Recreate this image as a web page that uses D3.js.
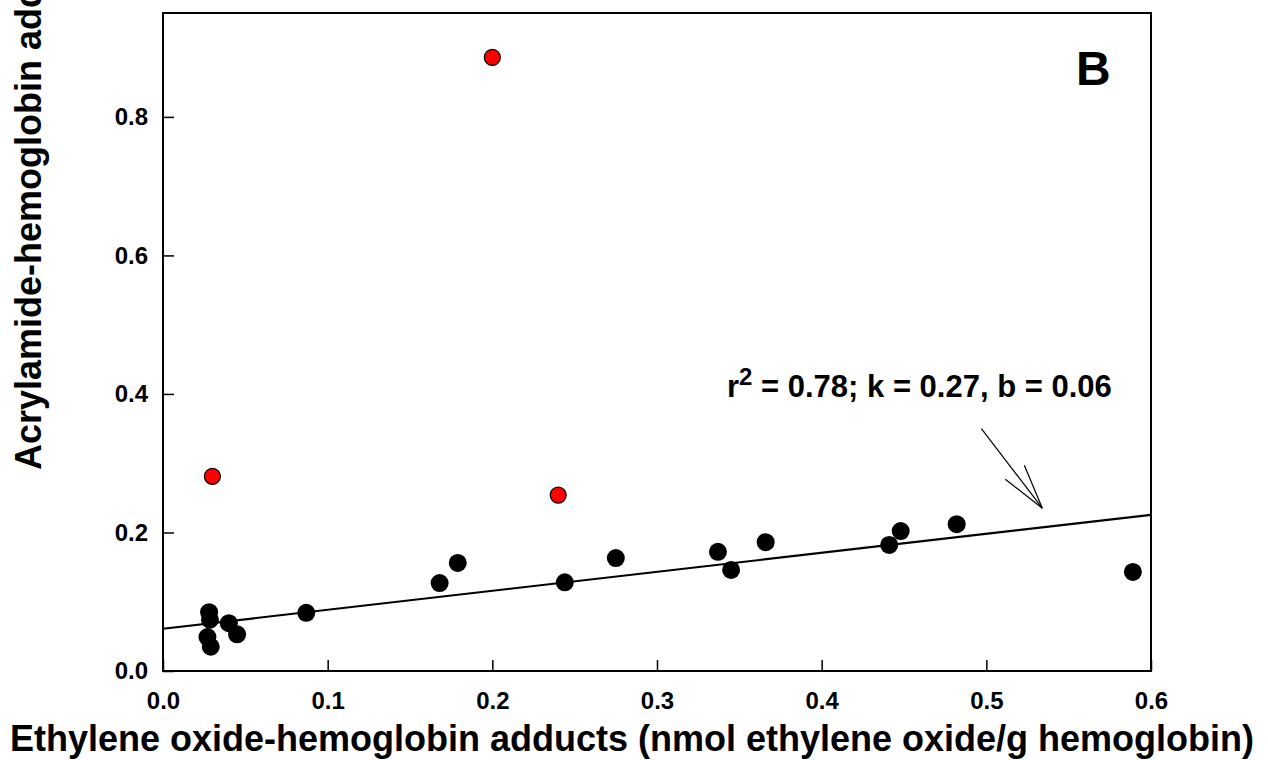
<!DOCTYPE html>
<html>
<head>
<meta charset="utf-8" />
<title>Acrylamide vs ethylene oxide adducts</title>
<script src="https://d3js.org/d3.v7.min.js"></script>
<style>
  body { margin: 0; background: #fff; }
  svg text { font-family: "Liberation Sans", Arial, sans-serif; font-weight: bold; fill: #000; }
</style>
</head>
<body>
<svg id="chart" width="1268" height="760"></svg>
<script>
// black points (regular subjects)
var blackX = [0.028, 0.0285, 0.027, 0.029, 0.040, 0.045, 0.087, 0.168, 0.179, 0.244, 0.275, 0.337, 0.345, 0.366, 0.441, 0.448, 0.482, 0.589];
var blackY = [0.085, 0.074, 0.049, 0.035, 0.069, 0.053, 0.084, 0.127, 0.156, 0.128, 0.163, 0.172, 0.146, 0.186, 0.182, 0.202, 0.212, 0.143];
// red points (outliers)
var redX = [0.200, 0.030, 0.240];
var redY = [0.886, 0.281, 0.254];
// regression line
var lineK = 0.274, lineB = 0.061;
var xTicks = [0.0, 0.1, 0.2, 0.3, 0.4, 0.5, 0.6];
var yTicks = [0.0, 0.2, 0.4, 0.6, 0.8];

var svg = d3.select("#chart");
var plotL = 163, plotR = 1151, plotT = 13, plotB = 671;

var x = d3.scaleLinear().domain([0, 0.6]).range([plotL, plotR]);
var y = d3.scaleLinear().domain([0, 0.95]).range([plotB, plotT]);

// frame
svg.append("rect")
  .attr("x", plotL).attr("y", plotT)
  .attr("width", plotR - plotL).attr("height", plotB - plotT)
  .attr("fill", "none").attr("stroke", "#000").attr("stroke-width", 2);

// x axis: ticks point inward (up)
var xAxis = svg.append("g")
  .attr("transform", "translate(0," + plotB + ")")
  .call(d3.axisBottom(x).tickValues(xTicks).tickFormat(d3.format(".1f")).tickSizeInner(-11).tickSizeOuter(0).tickPadding(21));
xAxis.select(".domain").remove();
xAxis.selectAll("line").attr("stroke-width", 1.5);
xAxis.selectAll("text").attr("font-size", 24).attr("font-family", null);

// y axis: ticks point inward (right)
var yAxis = svg.append("g")
  .attr("transform", "translate(" + plotL + ",0)")
  .call(d3.axisLeft(y).tickValues(yTicks).tickFormat(d3.format(".1f")).tickSizeInner(-11).tickSizeOuter(0).tickPadding(15));
yAxis.select(".domain").remove();
yAxis.selectAll("line").attr("stroke-width", 1.5);
yAxis.selectAll("text").attr("font-size", 24).attr("font-family", null);

// regression line
svg.append("line")
  .attr("x1", x(0)).attr("y1", y(lineB))
  .attr("x2", x(0.6)).attr("y2", y(lineB + lineK * 0.6))
  .attr("stroke", "#000").attr("stroke-width", 2.2);

// points
svg.selectAll(".black").data(blackX).enter().append("circle")
  .attr("class", "black")
  .attr("cx", function (d) { return x(d); })
  .attr("cy", function (d, i) { return y(blackY[i]); })
  .attr("r", 9).attr("fill", "#000");

svg.selectAll(".red").data(redX).enter().append("circle")
  .attr("class", "red")
  .attr("cx", function (d) { return x(d); })
  .attr("cy", function (d, i) { return y(redY[i]); })
  .attr("r", 8).attr("fill", "#ff0000").attr("stroke", "#000").attr("stroke-width", 1.2);

// annotation arrow
var ax1 = x(0.497), ay1 = y(0.350), ax2 = x(0.534), ay2 = y(0.235);
var arrow = svg.append("g").attr("stroke", "#000").attr("stroke-width", 1.2);
arrow.append("line").attr("x1", ax1).attr("y1", ay1).attr("x2", ax2).attr("y2", ay2);
arrow.append("line").attr("x1", ax2).attr("y1", ay2).attr("x2", ax2 - 37).attr("y2", ay2 - 29);
arrow.append("line").attr("x1", ax2).attr("y1", ay2).attr("x2", ax2 - 18).attr("y2", ay2 - 43);

var ann = svg.append("text").attr("x", 727).attr("y", 397).attr("font-size", 31);
ann.append("tspan").text("r");
ann.append("tspan").attr("dy", -12).attr("font-size", 24).text("2");
ann.append("tspan").attr("dy", 12).text(" = 0.78; k = 0.27, b = 0.06");

// panel label
svg.append("text").attr("x", 1076).attr("y", 85).attr("font-size", 48).text("B");

// axis titles
svg.append("text")
  .attr("x", 632).attr("y", 751)
  .attr("text-anchor", "middle").attr("font-size", 36)
  .text("Ethylene oxide-hemoglobin adducts (nmol ethylene oxide/g hemoglobin)");

svg.append("text")
  .attr("transform", "translate(41,470) rotate(-90)")
  .attr("font-size", 36)
  .text("Acrylamide-hemoglobin adducts (nmol acrylamide/g hemoglobin)");
</script>
</body>
</html>
